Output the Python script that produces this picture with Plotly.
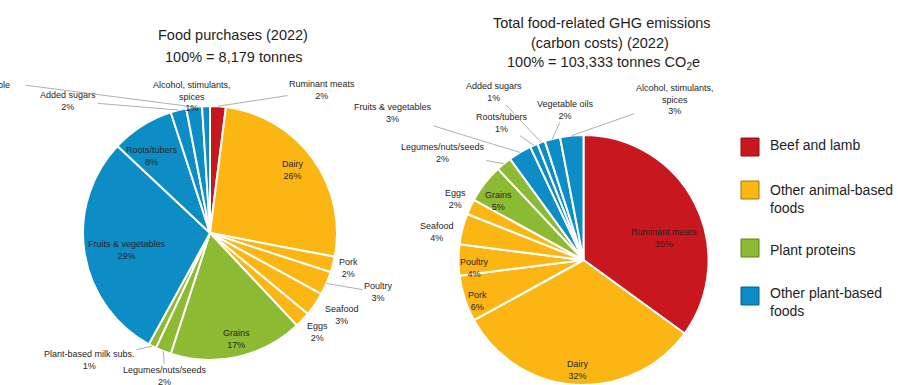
import numpy as np
import plotly.graph_objects as go

W, H = 898, 385
FONT = "Liberation Sans, Arial, sans-serif"

# ---- data -------------------------------------------------------------
purchase_categories = [
    "Ruminant meats", "Dairy", "Pork", "Poultry", "Seafood", "Eggs",
    "Grains", "Legumes/nuts/seeds", "Plant-based milk subs.",
    "Fruits & vegetables", "Roots/tubers", "Added sugars",
    "Vegetable oils", "Alcohol, stimulants, spices",
]
purchase_pct = [2, 26, 2, 3, 3, 2, 17, 2, 1, 29, 8, 2, 2, 1]

emission_categories = [
    "Ruminant meats", "Dairy", "Pork", "Poultry", "Seafood", "Eggs",
    "Grains", "Legumes/nuts/seeds", "Fruits & vegetables",
    "Roots/tubers", "Added sugars", "Vegetable oils",
    "Alcohol, stimulants, spices",
]
emission_pct = [35, 32, 6, 4, 4, 2, 5, 2, 3, 1, 1, 2, 3]

groups = ["Beef and lamb", "Other animal-based<br>foods", "Plant proteins",
          "Other plant-based<br>foods"]
group_colors = ["#C8171E", "#FCB614", "#8DBA33", "#0C8DC6"]
group_edges = ["#8E1015", "#A07810", "#5E7E22", "#0A5E86"]

category_group = {
    "Ruminant meats": 0,
    "Dairy": 1, "Pork": 1, "Poultry": 1, "Seafood": 1, "Eggs": 1,
    "Grains": 2, "Legumes/nuts/seeds": 2, "Plant-based milk subs.": 2,
    "Fruits & vegetables": 3, "Roots/tubers": 3, "Added sugars": 3,
    "Vegetable oils": 3, "Alcohol, stimulants, spices": 3,
}

# ---- label placement: offset (px) from the slice's outer-edge midpoint,
# whether a leader line is drawn, and the horizontal anchor of the label
left_place = {
    "Ruminant meats": (104, -16, True, "center"),
    "Dairy": (-20, 12, False, "center"),
    "Pork": (15, 3, False, "center"),
    "Poultry": (52, 9, True, "center"),
    "Seafood": (27, 11, False, "center"),
    "Eggs": (15, 12, False, "center"),
    "Grains": (-1, -18, False, "center"),
    "Legumes/nuts/seeds": (2, 25, True, "center"),
    "Plant-based milk subs.": (-63, 14, True, "center"),
    "Fruits & vegetables": (42, -3, False, "center"),
    "Roots/tubers": (10, 30, False, "center"),
    "Added sugars": (-110, -9, True, "center"),
    # runs off the left edge: anchored by its right side, leader from top line
    "Vegetable oils": (-182, -11, True, "right"),
    "Alcohol, stimulants, spices": (-14, -10, False, "center"),
}
right_place = {
    "Ruminant meats": (-31, 35, False, "center"),
    "Dairy": (2, -15, False, "center"),
    "Pork": (13, 2, False, "center"),
    "Poultry": (16, 8, False, "center"),
    "Seafood": (-25, 3, False, "center"),
    "Eggs": (-15, -8, False, "center"),
    "Grains": (14, 18, False, "center"),
    "Legumes/nuts/seeds": (-61, -11, True, "center"),
    "Fruits & vegetables": (-127, -39, True, "center"),
    "Roots/tubers": (-32, -22, True, "center"),
    "Added sugars": (-47, -50, True, "center"),
    "Vegetable oils": (13, -29, True, "center"),
    "Alcohol, stimulants, spices": (103, -36, True, "center"),
}
left_wrap = {"Alcohol, stimulants, spices": "Alcohol, stimulants,<br>spices",
             "Vegetable oils": "Vegetable<br>oils"}
right_wrap = {"Alcohol, stimulants, spices": "Alcohol, stimulants,<br>spices"}

left_domain = dict(x=[83 / W, 337 / W], y=[1 - 360 / H, 1 - 106 / H])
right_domain = dict(x=[457 / W, 710 / W], y=[0.0, 1 - 135 / H])

LABEL_FONT = dict(family=FONT, size=9, color="#262626")
LEADER = dict(arrowhead=0, arrowwidth=0.8, arrowcolor="#9A9A9A",
              standoff=0, startstandoff=0)


def pie_geometry(domain):
    bw = W * (domain["x"][1] - domain["x"][0])
    bh = H * (domain["y"][1] - domain["y"][0])
    cx = W * (domain["x"][0] + domain["x"][1]) / 2
    cy = H * (1 - domain["y"][0]) - bh / 2
    return cx, cy, min(bw, bh) / 2


def slice_labels(categories, values, domain, place, wrap):
    cx, cy, r = pie_geometry(domain)
    vals = np.asarray(values, dtype=float)
    total = vals.sum()
    mids = (np.cumsum(vals) - vals / 2) / total * 2 * np.pi
    anns = []
    for cat, v, th in zip(categories, vals, mids):
        px = cx + r * np.sin(th)
        py = cy - r * np.cos(th)
        dx, dy, leader, anchor = place[cat]
        text = f"{wrap.get(cat, cat)}<br>{v:.0f}%"
        base = dict(x=px / W, y=1 - py / H, xref="paper", yref="paper")
        if leader and anchor == "center":
            anns.append(dict(base, text=text, font=LABEL_FONT, align="center",
                             showarrow=True, ax=dx, ay=dy, **LEADER))
            continue
        if leader:
            # leader drawn on its own, ending at the label's first line
            anns.append(dict(base, text=" ", font=dict(size=1),
                             showarrow=True, ax=dx + 12, ay=dy - 11, **LEADER))
        anns.append(dict(base, text=text, font=LABEL_FONT, align="center",
                         showarrow=False, xshift=dx, yshift=-dy,
                         xanchor=anchor, yanchor="middle"))
    return anns


def pie_trace(categories, values, domain):
    return go.Pie(
        labels=categories, values=values, sort=False, direction="clockwise",
        rotation=0, domain=domain, textinfo="none", hoverinfo="label+percent",
        marker=dict(colors=[group_colors[category_group[c]] for c in categories],
                    line=dict(color="white", width=2)),
        showlegend=False,
    )


fig = go.Figure()
fig.add_trace(pie_trace(purchase_categories, purchase_pct, left_domain))
fig.add_trace(pie_trace(emission_categories, emission_pct, right_domain))

annotations = []
annotations += slice_labels(purchase_categories, purchase_pct, left_domain,
                            left_place, left_wrap)
annotations += slice_labels(emission_categories, emission_pct, right_domain,
                            right_place, right_wrap)

# titles
title_font = dict(family=FONT, size=14.5, color="#1E1E1E")
for txt, x, y in [
    ("Food purchases (2022)", 233, 35),
    ("100% = 8,179 tonnes", 234, 57),
    ("Total food-related GHG emissions", 602, 23),
    ("(carbon costs) (2022)", 600, 43),
    ("100% = 103,333 tonnes CO<sub>2</sub>e", 603, 63),
]:
    annotations.append(dict(x=x / W, y=1 - y / H, xref="paper", yref="paper",
                            text=txt, showarrow=False, font=title_font,
                            xanchor="center", yanchor="middle"))

# group key
shapes = []
key_rows = [(147, 145), (190, 199), (248, 250), (296, 301.5)]
for name, fill, edge, (sq_y, txt_y) in zip(groups, group_colors, group_edges,
                                           key_rows):
    shapes.append(dict(type="rect", xref="paper", yref="paper",
                       x0=741 / W, x1=759 / W,
                       y0=1 - (sq_y + 9) / H, y1=1 - (sq_y - 9) / H,
                       fillcolor=fill, line=dict(color=edge, width=1)))
    annotations.append(dict(x=768 / W, y=1 - txt_y / H, xref="paper",
                            yref="paper", text=name, showarrow=False,
                            xanchor="left", yanchor="middle", align="left",
                            font=dict(family=FONT, size=14, color="#1E1E1E")))

fig.update_layout(
    width=W, height=H,
    margin=dict(l=0, r=0, t=0, b=0),
    paper_bgcolor="white", plot_bgcolor="white",
    annotations=annotations, shapes=shapes,
)

fig.write_html("out.html")
